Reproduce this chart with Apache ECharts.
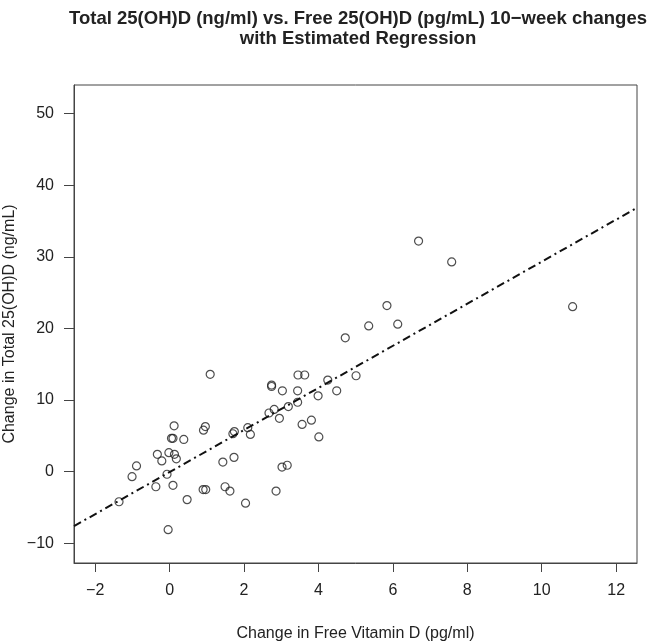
<!DOCTYPE html>
<html>
<head>
<meta charset="utf-8">
<script src="https://cdn.jsdelivr.net/npm/echarts@6/dist/echarts.min.js"></script>
<style>html,body{margin:0;padding:0;background:#fff;}#c{width:652px;height:641px;}</style>
</head>
<body>
<div id="c"></div>
<script>
// Change in Free Vitamin D (pg/ml)
const freeChange = [10.83, 6.69, 7.58, 5.84, 5.35, 6.13, 4.72, 3.45, 3.63, 4.25,
  5.01, 2.74, 2.74, 3.03, 3.44, 4.49, 3.99, 3.44, 3.19, 2.81,
  2.67, 2.95, 3.81, 3.56, 4.01, 3.02, 3.16, 2.10, 2.17, 1.09,
  0.12, 0.96, 0.91, 0.05, 0.09, 0.38, 1.74, 1.70, -0.33, -0.02,
  0.13, -0.21, 0.18, -0.89, -1.01, -0.07, -0.37, 0.09, -1.36, -0.04,
  0.47, 1.43, 1.73, 0.90, 0.97, 1.49, 1.62, 2.04, 2.86];
// Change in Total 25(OH)D (ng/mL)
const totalChange = [23.05, 32.2, 29.3, 23.2, 20.35, 20.6, 18.7, 13.5, 13.5, 12.8,
  13.4, 12.1, 11.9, 11.3, 11.3, 11.3, 10.6, 9.7, 9.1, 8.7,
  8.2, 7.45, 7.2, 6.6, 4.85, 0.65, 0.9, 6.15, 5.2, 13.6,
  6.4, 6.3, 5.8, 4.66, 4.66, 4.5, 5.6, 5.3, 2.43, 2.65,
  2.43, 1.5, 1.8, 0.8, -0.7, -0.36, -2.1, -1.9, -4.2, -8.1,
  -3.9, 1.35, 2.0, -2.5, -2.5, -2.1, -2.7, -4.4, -2.7];
// Estimated regression line end points
const fitX = [-2.57, 12.56];
const fitY = [-7.6, 36.85];
// Tick labels
const xTicks = [-2, 0, 2, 4, 6, 8, 10, 12];
const yTicks = [-10, 0, 10, 20, 30, 40, 50];

const points = freeChange.map((x, i) => [x, totalChange[i]]);
const fitLine = fitX.map((x, i) => [x, fitY[i]]);

const chart = echarts.init(document.getElementById('c'), null, {renderer: 'canvas'});
const font = 'Liberation Sans, Arial, Helvetica, sans-serif';
const fmt = v => (v < 0 ? '\u2212' + Math.abs(v) : String(v));
chart.setOption({
  animation: false,
  backgroundColor: '#fff',
  title: {
    text: 'Total 25(OH)D (ng/ml) vs. Free 25(OH)D (pg/mL) 10\u2212week changes\nwith Estimated Regression',
    left: 353,
    top: 4,
    textAlign: 'center',
    textStyle: {fontFamily: font, fontSize: 18.5, fontWeight: 'bold', color: '#222', lineHeight: 20}
  },
  grid: {left: 74, right: 15, top: 85, bottom: 78, show: true, borderColor: '#444', borderWidth: 1,
    backgroundColor: 'transparent', outerBoundsMode: 'none', containLabel: false},
  xAxis: {
    type: 'value', min: -2.57, max: 12.56,
    name: 'Change in Free Vitamin D (pg/ml)', nameLocation: 'middle', nameGap: 63, nameMoveOverlap: false,
    nameTextStyle: {fontFamily: font, fontSize: 16, color: '#222'},
    axisLine: {show: true, onZero: false, lineStyle: {color: '#444', width: 1}},
    splitLine: {show: false},
    axisTick: {show: true, length: 9, lineStyle: {color: '#444'}, customValues: xTicks},
    axisLabel: {fontFamily: font, fontSize: 16, color: '#222', margin: 20, customValues: xTicks, formatter: fmt}
  },
  yAxis: {
    type: 'value', min: -12.75, max: 54,
    name: 'Change in Total 25(OH)D (ng/mL)', nameLocation: 'middle', nameGap: 56, nameMoveOverlap: false,
    nameTextStyle: {fontFamily: font, fontSize: 16, color: '#222'},
    axisLine: {show: true, onZero: false, lineStyle: {color: '#444', width: 1}},
    splitLine: {show: false},
    axisTick: {show: true, length: 10, lineStyle: {color: '#444'}, customValues: yTicks},
    axisLabel: {fontFamily: font, fontSize: 16, color: '#222', margin: 20, customValues: yTicks, formatter: fmt}
  },
  series: [
    {
      type: 'scatter',
      data: points,
      symbol: 'circle',
      symbolSize: 8,
      itemStyle: {color: 'rgba(0,0,0,0)', borderColor: '#222', borderWidth: 1.2},
      emphasis: {disabled: true}
    },
    {
      type: 'line',
      data: fitLine,
      showSymbol: false,
      symbol: 'none',
      clip: true,
      lineStyle: {color: '#111', width: 2, type: [8, 4, 2, 4]},
      emphasis: {disabled: true}
    }
  ]
});
</script>
</body>
</html>
